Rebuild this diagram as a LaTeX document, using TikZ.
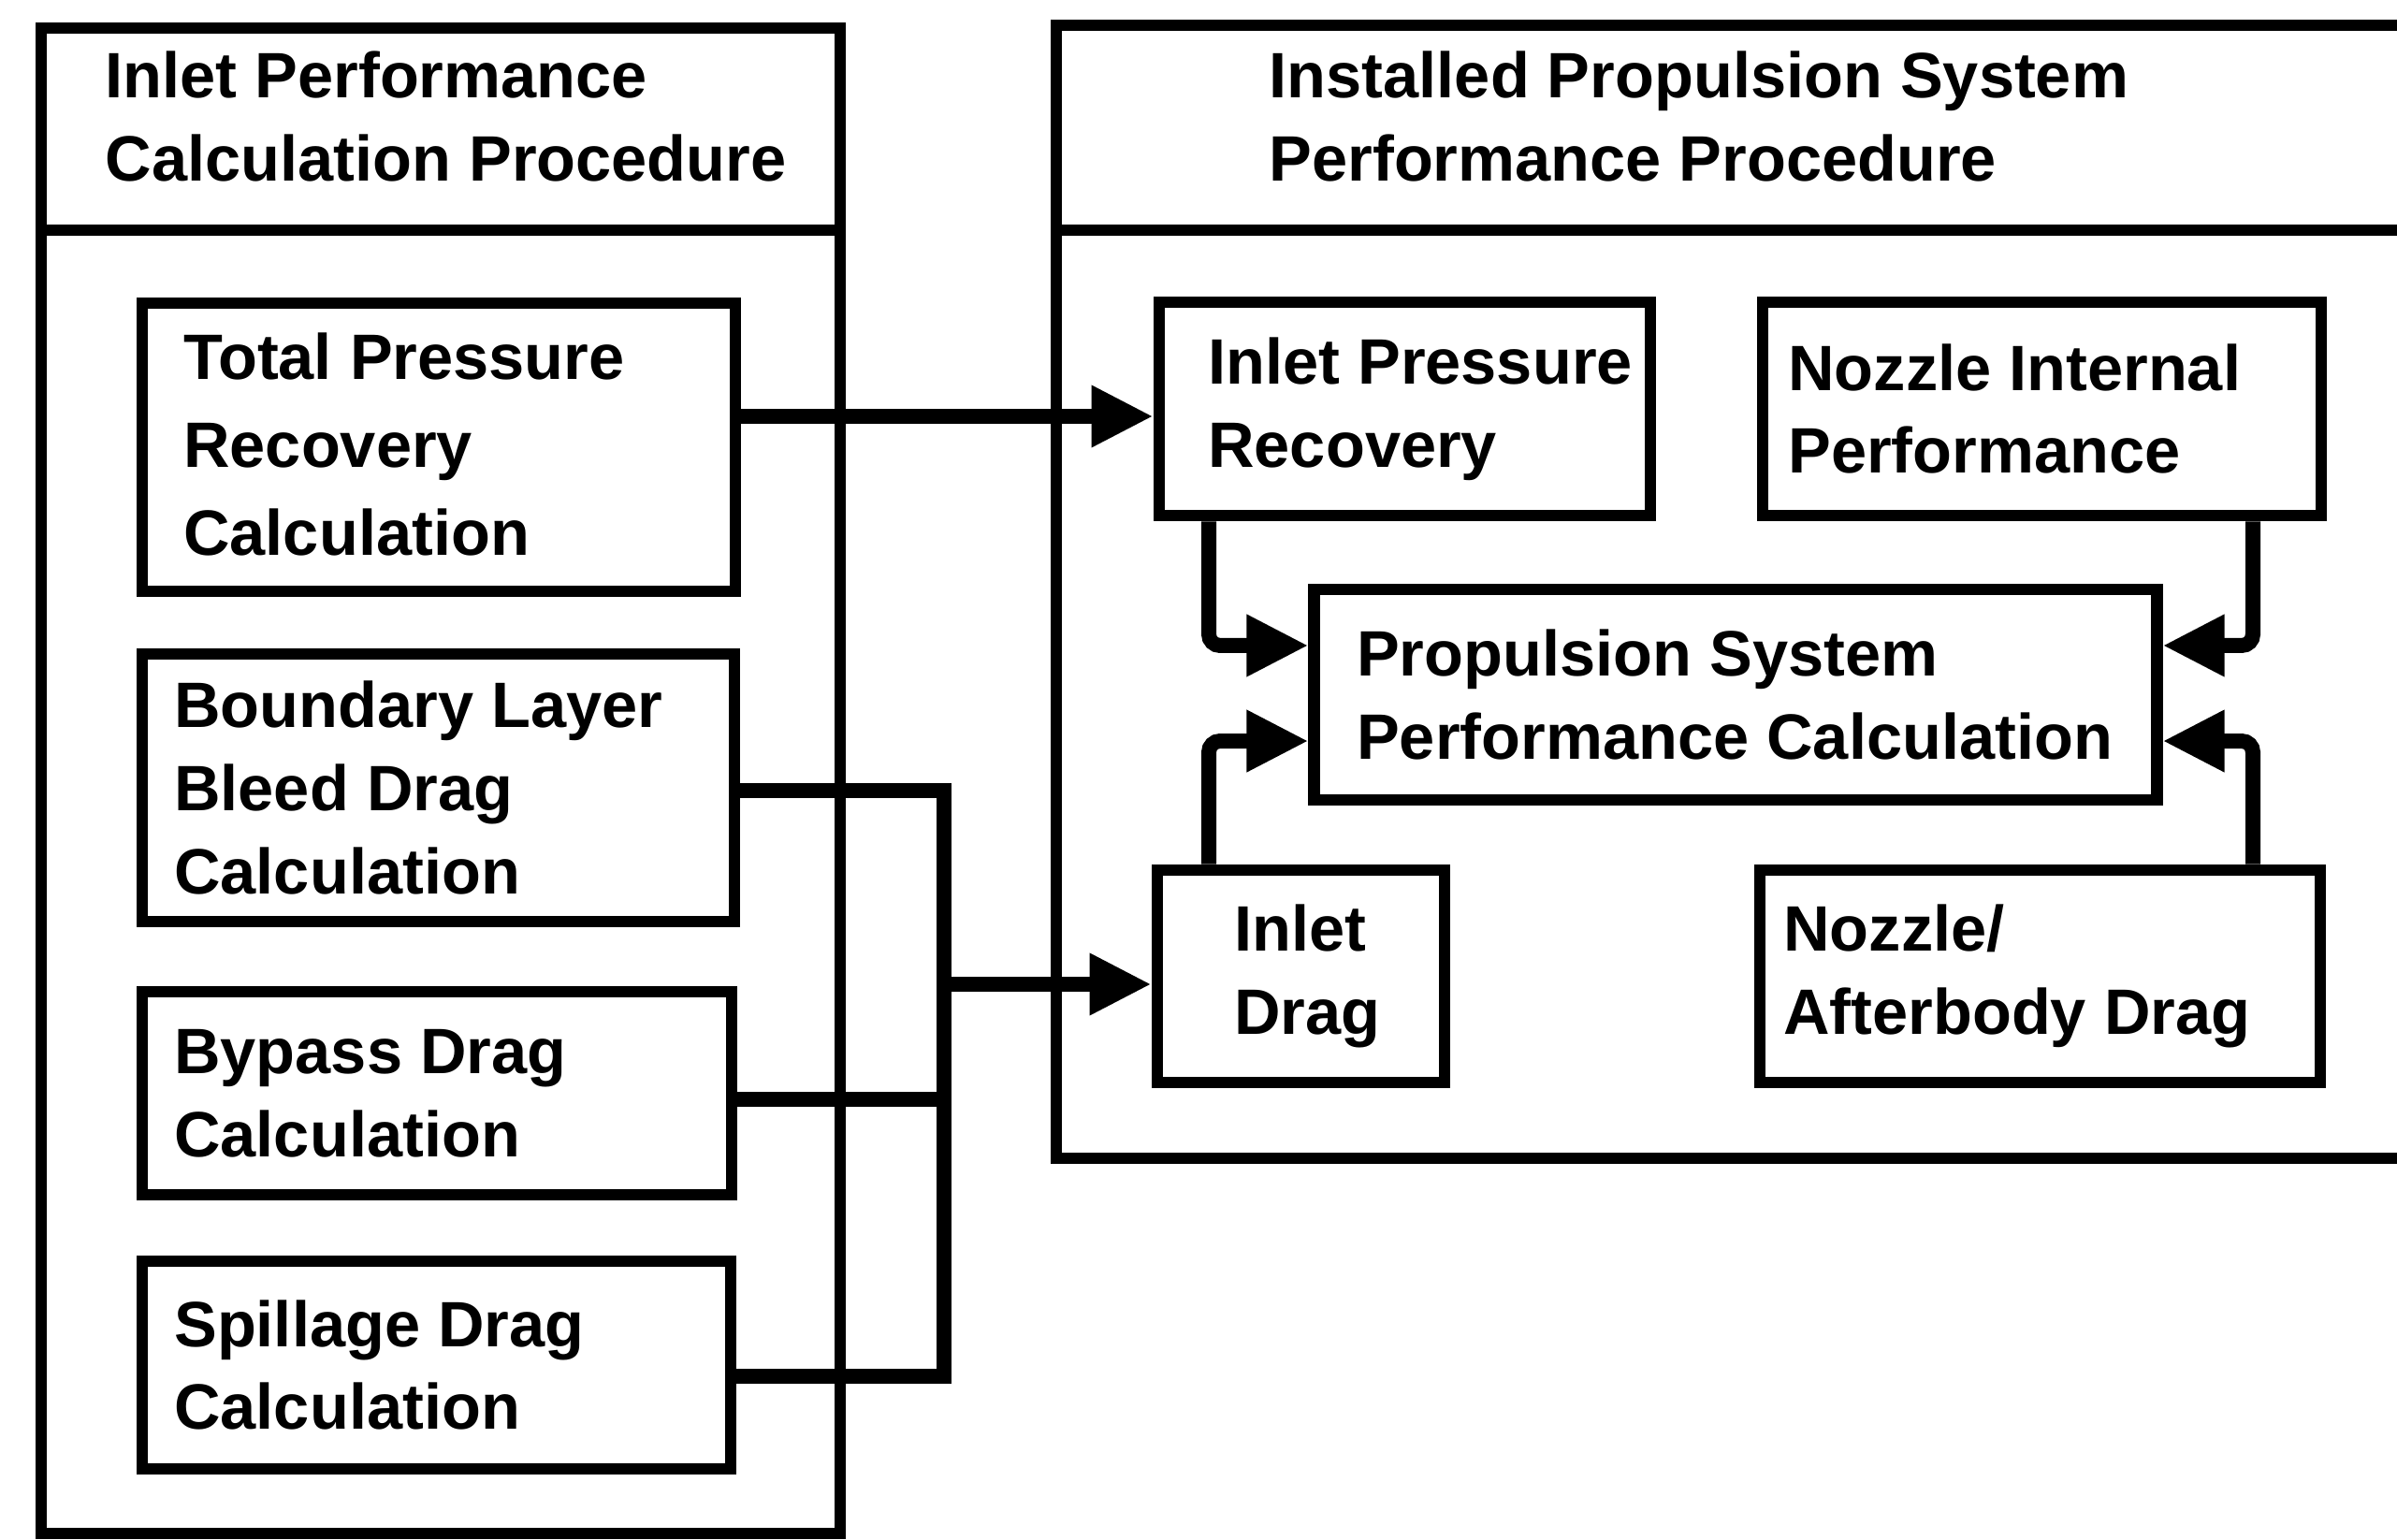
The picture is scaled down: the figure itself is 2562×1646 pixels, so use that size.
\documentclass[tikz,border=0pt]{standalone}
\usepackage{fontspec}
\setmainfont{Liberation Sans}
\usetikzlibrary{arrows.meta,calc}

\begin{document}
\begin{tikzpicture}[x=0.01cm, y=-0.01cm,
  frame/.style={line width=0.115cm},
  box/.style={draw, line width=0.125cm, inner sep=0pt},
  txt/.style={anchor=west, inner sep=0pt, align=left,
    font=\fontsize{19.5}{25.3}\selectfont\bfseries},
  widetxt/.style={txt, font=\fontsize{19.5}{26.6}\selectfont\bfseries},
  hdr/.style={txt, anchor=north west},
  conn/.style={line width=0.16cm},
  arr/.style={conn, -{Triangle[length=0.66cm, width=0.62cm]}},
]
\useasboundingbox (0,0) rectangle (2562,1646);
\clip (0,0) rectangle (2562,1646);

% ---- procedure frames ----
\draw[frame] (44,30) rectangle (898,1639);
\draw[frame] (44,246) -- (898,246);
\draw[frame] (2600,27) -- (1129,27) -- (1129,1238) -- (2600,1238);
\draw[frame] (1129,246) -- (2600,246);

\node[hdr] (lhead) at (112,54) {Inlet Performance\\Calculation Procedure};
\node[hdr] (rhead) at (1356,54) {Installed Propulsion System\\Performance Procedure};

% ---- inlet calculation blocks ----
\node[box, minimum width=6.34cm, minimum height=3.08cm] (TP) at (469,478) {};
\node[box, minimum width=6.33cm, minimum height=2.86cm] (BL) at (468.5,842) {};
\node[box, minimum width=6.30cm, minimum height=2.17cm] (BP) at (467,1168.5) {};
\node[box, minimum width=6.29cm, minimum height=2.22cm] (SP) at (466.5,1459) {};

\node[widetxt] (TPt) at ([xshift=0.50cm, yshift=0.03cm]TP.west) {Total Pressure\\Recovery\\Calculation};
\node[txt] (BLt) at ([xshift=0.40cm]BL.west) {Boundary Layer\\Bleed Drag\\Calculation};
\node[txt] (BPt) at ([xshift=0.40cm]BP.west) {Bypass Drag\\Calculation};
\node[txt] (SPt) at ([xshift=0.40cm]SP.west) {Spillage Drag\\Calculation};

% ---- installed system blocks ----
\node[box, minimum width=5.25cm, minimum height=2.28cm] (IPR) at (1501.5,437) {};
\node[box, minimum width=5.97cm, minimum height=2.28cm] (NIP) at (2182.5,437) {};
\node[box, minimum width=9.00cm, minimum height=2.25cm] (PSP) at (1855,742.5) {};
\node[box, minimum width=3.07cm, minimum height=2.27cm] (ID) at (1390.5,1043.5) {};
\node[box, minimum width=5.99cm, minimum height=2.27cm] (NAD) at (2180.5,1043.5) {};

\node[txt] (IPRt) at ([xshift=0.58cm]IPR.west) {Inlet Pressure\\Recovery};
\node[txt] (NIPt) at ([xshift=0.33cm]NIP.west) {Nozzle Internal\\Performance};
\node[txt] (PSPt) at ([xshift=0.51cm]PSP.west) {Propulsion System\\Performance Calculation};
\node[txt] (IDt) at ([xshift=0.88cm]ID.west) {Inlet\\Drag};
\node[txt] (NADt) at ([xshift=0.31cm]NAD.west) {Nozzle/\\Afterbody Drag};

% ---- connectors ----
\coordinate (bus) at (1009,1052);
\coordinate (lv) at (1292,690);
\coordinate (rv) at (2408,690);

\draw[arr] ([yshift=-0.08cm]IPR.west -| TP.east) -- ([yshift=-0.08cm]IPR.west);

\draw[conn] ([yshift=-0.03cm]BL.east) -| (bus) |- ([yshift=-0.12cm]SP.east);
\draw[conn] ([yshift=-0.065cm]BP.east) -- ([yshift=-0.065cm]BP.east -| bus);
\draw[arr] (bus) -- (ID.west |- bus);

\draw[arr, rounded corners=0.12cm] (IPR.south -| lv) |- ([yshift=0.525cm]PSP.west);
\draw[arr, rounded corners=0.12cm] (ID.north -| lv) |- ([yshift=-0.495cm]PSP.west);
\draw[arr, rounded corners=0.12cm] (NIP.south -| rv) |- ([yshift=0.525cm]PSP.east);
\draw[arr, rounded corners=0.12cm] (NAD.north -| rv) |- ([yshift=-0.495cm]PSP.east);
\end{tikzpicture}
\end{document}
